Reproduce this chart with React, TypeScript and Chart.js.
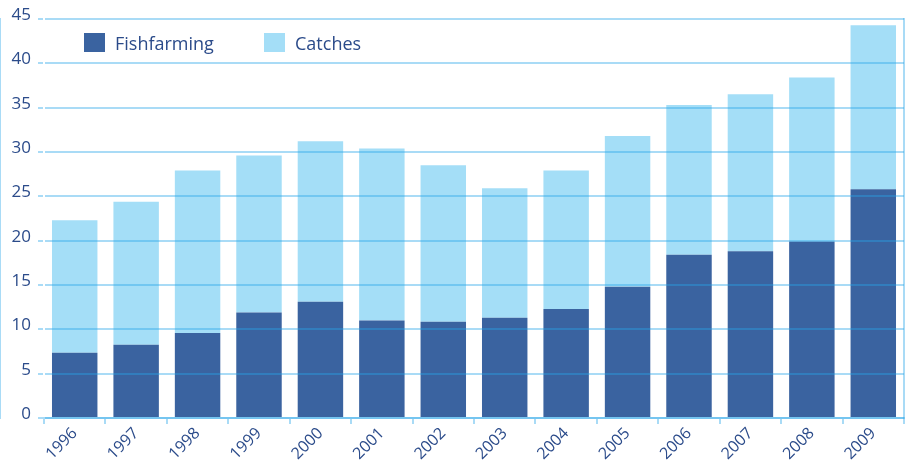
import { useEffect, useRef } from "react";
import { Chart, registerables } from "chart.js";

Chart.register(...registerables);

const years = ["1996", "1997", "1998", "1999", "2000", "2001", "2002", "2003", "2004", "2005", "2006", "2007", "2008", "2009"];
const fishfarming = [7.35, 8.25, 9.6, 11.9, 13.1, 11.0, 10.85, 11.3, 12.3, 14.8, 18.4, 18.8, 19.9, 25.8];
const catches = [14.95, 16.15, 18.3, 17.7, 18.1, 19.4, 17.65, 14.6, 15.6, 17.0, 16.9, 17.7, 18.5, 18.5];
const seriesNames = ["Fishfarming", "Catches"];
const seriesColors = ["#3a63a0", "#a4def7"];
const yMin = 0;
const yMax = 45;
const yStep = 5;

const textColor = "#2b4b8a";
const gridColor = "rgba(40,165,232,0.4)";
const fontFamily = "'Open Sans', 'Noto Sans', sans-serif";

export default function App() {
  const ref = useRef<HTMLCanvasElement>(null);
  useEffect(() => {
    const chart = new Chart(ref.current!, {
      type: "bar",
      data: {
        labels: years,
        datasets: [
          { label: seriesNames[0], data: fishfarming, backgroundColor: seriesColors[0], barPercentage: 0.74, categoryPercentage: 1 },
          { label: seriesNames[1], data: catches, backgroundColor: seriesColors[1], barPercentage: 0.74, categoryPercentage: 1 },
        ],
      },
      options: {
        animation: false,
        responsive: true,
        maintainAspectRatio: false,
        layout: { padding: { top: 19, right: 3, left: 0, bottom: 0 } },
        plugins: {
          tooltip: { enabled: false },
          legend: { display: false },
        },
        scales: {
          x: {
            stacked: true,
            afterFit: (s: any) => { s.height = 43; },
            grid: { drawOnChartArea: false, color: gridColor, tickLength: 6, lineWidth: 2 },
            border: { color: gridColor, width: 2 },
            ticks: { color: textColor, font: { family: fontFamily, size: 16 }, minRotation: 45, maxRotation: 45, padding: 0 },
          },
          y: {
            stacked: true,
            min: yMin,
            max: yMax,
            afterFit: (s: any) => { s.width = 44; },
            ticks: { stepSize: yStep, color: textColor, font: { family: fontFamily, size: 17 }, padding: 7, labelOffset: -4 },
            grid: { color: gridColor, lineWidth: 2, tickLength: 6, z: 1 } as any,
            border: { color: gridColor, width: 2 },
          },
          yRight: {
            position: "right",
            min: yMin,
            max: yMax,
            ticks: { display: false },
            grid: { display: false, drawTicks: false },
            border: { color: gridColor, width: 2 },
          },
        },
      },
    });
    return () => chart.destroy();
  }, []);
  const legendLeft = [84, 264];
  return (
    <div style={{ position: "fixed", left: 0, top: 0, width: 907, height: 461, background: "#fff" }}>
      <canvas ref={ref} />
      {seriesNames.map((name, i) => (
        <div
          key={name}
          style={{
            position: "absolute",
            left: legendLeft[i],
            top: 33,
            height: 19,
            display: "flex",
            alignItems: "center",
            fontFamily,
            fontSize: 18,
            color: textColor,
            whiteSpace: "nowrap",
          }}
        >
          <span style={{ display: "inline-block", width: 21, height: 19, background: seriesColors[i], marginRight: 10 }} />
          <span>{name}</span>
        </div>
      ))}
    </div>
  );
}
